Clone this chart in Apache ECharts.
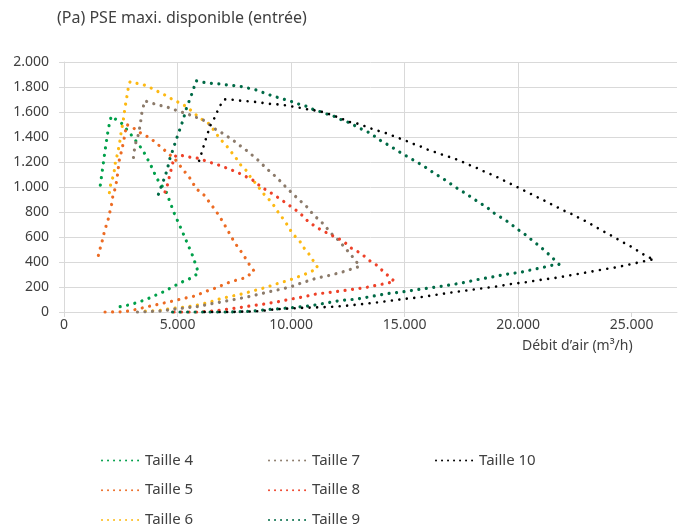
<!DOCTYPE html>
<html>
<head>
<meta charset="utf-8">
<title>PSE maxi. disponible</title>
<script src="https://cdn.jsdelivr.net/npm/echarts@6/dist/echarts.min.js"></script>
<style>
  html, body { margin: 0; padding: 0; background: #fff; }
  #chart { width: 684px; height: 524px; }
</style>
</head>
<body>
<div id="chart"></div>
<script>
// courbes : [débit m3/h, pression Pa]
const taille4 = [
  [1600, 1015], [1690, 1134], [1810, 1294], [1955, 1468], [2080, 1567],
  [2545, 1508], [2985, 1412], [3470, 1295], [3825, 1174], [4090, 1068], [4500, 961],
  [4850, 792], [5265, 621], [5660, 453], [5925, 312],
  [5635, 274], [5340, 252], [5045, 226], [4750, 199], [4455, 166], [4160, 146],
  [3870, 119], [3575, 98], [3280, 79], [2940, 60], [2620, 47], [2325, 38], [2150, 33]
]
const taille5 = [
  [1515, 453], [1590, 507], [1690, 573], [1765, 632], [1855, 688], [1955, 747],
  [2030, 808], [2105, 867], [2150, 926], [2250, 987], [2325, 1054], [2440, 1220],
  [2545, 1295], [2620, 1361], [2690, 1428], [2760, 1500],
  [3030, 1476], [3280, 1441], [3575, 1415], [3870, 1380], [4380, 1303], [4895, 1220],
  [5265, 1134], [5560, 1068], [5820, 987], [6175, 934], [6560, 840], [6850, 766],
  [7160, 670], [7500, 560], [7880, 463], [8235, 359], [8380, 327],
  [7985, 274], [7440, 247], [7100, 226], [6810, 201], [6470, 178], [6145, 159],
  [5855, 132], [5530, 119], [5190, 106], [4895, 92], [4575, 79], [4265, 66],
  [3910, 52], [3575, 38], [2985, 12], [2620, 2], [2030, 0], [1650, 0]
]
const taille6 = [
  [2000, 955], [2060, 1028], [2150, 1076], [2220, 1134], [2265, 1200], [2355, 1263],
  [2410, 1316], [2470, 1375], [2515, 1436], [2590, 1508], [2645, 1575], [2680, 1629],
  [2735, 1687], [2795, 1749], [2850, 1816], [2910, 1842],
  [3205, 1829], [3530, 1816], [3870, 1789], [4160, 1762], [4455, 1735], [4780, 1701],
  [5075, 1674], [5410, 1642], [5880, 1567], [6120, 1535], [6365, 1508], [6660, 1441],
  [6850, 1388], [7100, 1343], [7400, 1273], [7590, 1228], [7795, 1174], [8015, 1134],
  [8205, 1081], [8425, 1032], [8615, 988], [8795, 945], [9060, 894], [9265, 846],
  [9455, 792], [9645, 747], [9850, 693], [10045, 632], [10410, 560], [10590, 507],
  [10780, 466], [10970, 413], [11175, 354],
  [10850, 319], [10485, 293], [10190, 274], [9895, 252], [9600, 239], [9235, 218],
  [8940, 199], [8615, 183], [8280, 167], [7985, 151], [7690, 138], [7395, 127],
  [7060, 114], [6735, 98], [6470, 82], [6145, 66], [5780, 52], [5410, 40],
  [5045, 34], [4675, 26], [4310, 14], [4015, 10], [3350, 6]
]
const taille7 = [
  [3060, 1236], [3100, 1295], [3160, 1353], [3250, 1401], [3320, 1460], [3380, 1527],
  [3425, 1589], [3500, 1647], [3550, 1690],
  [3825, 1674], [4160, 1655], [4500, 1642], [4795, 1623], [5115, 1602], [5410, 1589],
  [5705, 1562], [6000, 1549], [6265, 1521], [6590, 1470], [6880, 1441], [7175, 1407],
  [7440, 1375], [7720, 1335], [7985, 1300], [8235, 1263], [8600, 1206], [8820, 1166],
  [9055, 1126], [9310, 1086], [9560, 1041], [9790, 996], [10045, 952], [10265, 913],
  [10735, 835], [10970, 781], [11410, 707], [11810, 621], [12100, 573], [12320, 525],
  [12540, 479], [12760, 431], [13030, 365],
  [12690, 346], [12395, 327], [12100, 312], [11765, 296], [11440, 284], [11115, 270],
  [10805, 252], [10485, 234], [10160, 212], [9825, 194], [9485, 180], [9160, 167],
  [8530, 140], [8175, 124], [7880, 114], [7590, 103], [7250, 92], [6910, 79],
  [6590, 70], [6365, 62], [5925, 44], [5000, 26], [4675, 18], [4265, 8], [3350, 0], [3060, 0]
]
const taille8 = [
  [4450, 960], [4560, 1020], [4650, 1090], [4750, 1161], [4820, 1214], [4940, 1255],
  [5040, 1258],
  [5340, 1247], [5635, 1236], [5970, 1228], [6320, 1203], [6705, 1182], [7030, 1161],
  [7325, 1140], [7690, 1113], [7985, 1086], [8325, 1054], [8720, 996], [9010, 965],
  [9310, 930], [9560, 899], [9850, 862], [10190, 819], [10485, 774], [10735, 728],
  [11000, 693], [11295, 659], [11590, 632], [11880, 605], [12100, 587], [12395, 552],
  [12615, 515], [12940, 483], [13200, 450], [13470, 410], [13750, 378], [14015, 333],
  [14260, 293], [14560, 244],
  [14230, 231], [13910, 218], [13575, 207], [13250, 194], [12910, 186], [12585, 178],
  [12275, 170], [11955, 162], [11615, 155], [10970, 140], [10630, 124], [10335, 114],
  [10000, 103], [9675, 92], [9350, 79], [9015, 71], [8720, 60], [8350, 52],
  [8030, 44], [7690, 34], [7355, 26], [7030, 18], [6705, 10], [6365, 5], [6000, 0], [4800, 0]
]
const taille9 = [
  [4160, 942], [4300, 1014], [4455, 1085], [4560, 1150], [4675, 1236], [4795, 1295],
  [4895, 1353], [5000, 1409], [5115, 1468], [5235, 1530], [5410, 1640], [5560, 1709],
  [5675, 1768], [5820, 1850],
  [6145, 1837], [6470, 1829], [6850, 1824], [7205, 1816], [7545, 1810], [7865, 1802],
  [8160, 1789], [8470, 1776], [8795, 1754], [9085, 1735], [9410, 1717], [9705, 1701],
  [10045, 1682], [10340, 1663], [10660, 1647], [10970, 1621], [11295, 1602], [11590, 1583],
  [11880, 1567], [12175, 1541], [12500, 1519], [12790, 1493], [13085, 1465], [13380, 1441],
  [13765, 1396], [14015, 1361], [14305, 1335], [14600, 1300], [14895, 1268], [15190, 1236],
  [15480, 1206], [15780, 1174], [16070, 1140], [16320, 1108], [16615, 1076], [16910, 1041],
  [17175, 1006], [17470, 974], [17735, 942], [18030, 907], [18320, 872], [18615, 840],
  [18865, 800], [19160, 766], [19455, 734], [19720, 699], [20000, 659], [20260, 627],
  [20525, 587], [20775, 552], [21070, 507], [21295, 471], [21555, 426], [21805, 381],
  [21470, 373], [21145, 359], [20820, 346], [20480, 333], [20145, 319], [19455, 301],
  [18820, 279], [18175, 258], [17500, 231], [16850, 212], [16175, 194], [15525, 178],
  [14850, 159], [14205, 146], [13530, 124], [12880, 103], [12205, 92], [11880, 84],
  [11560, 72], [11250, 62], [10925, 52], [10590, 44], [10265, 38], [9925, 34],
  [9530, 26], [9160, 22], [8865, 18], [8570, 12], [8280, 6], [7910, 4], [7325, 0],
  [6955, 0], [4500, 0]
]
const taille10 = [
  [5950, 1210], [6075, 1281], [6220, 1369], [6440, 1490], [6660, 1562], [6810, 1630],
  [6955, 1674], [7060, 1701],
  [7295, 1701], [7545, 1695], [7795, 1690], [8060, 1687], [8350, 1682], [8615, 1677],
  [8865, 1669], [9160, 1663], [9455, 1661], [9705, 1655], [9970, 1647], [10235, 1637],
  [10485, 1632], [10735, 1621], [11265, 1607], [11810, 1575], [12205, 1549], [12540, 1521],
  [12880, 1510], [13200, 1490], [13720, 1455], [14015, 1441], [14305, 1423], [14675, 1396],
  [15000, 1375], [15335, 1348], [15675, 1327], [16000, 1300], [16320, 1281], [16735, 1254],
  [17055, 1236], [17470, 1209], [17765, 1182], [18085, 1161], [18380, 1134], [18720, 1108],
  [19055, 1081], [19410, 1049], [19705, 1022], [20000, 996], [20380, 961], [21070, 899],
  [21410, 867], [22055, 808], [22395, 781], [22730, 747], [23055, 720], [23420, 680],
  [24010, 621], [24600, 560], [24890, 533], [25440, 471], [25705, 439], [26000, 423],
  [25705, 413], [25380, 399], [25040, 386], [24380, 359], [23675, 338], [23025, 317],
  [22350, 295], [21700, 274], [21030, 258], [20380, 239], [19705, 224], [19055, 204],
  [18380, 188], [17735, 172], [17055, 156], [16410, 138], [15735, 119], [15040, 106],
  [14380, 90], [13675, 74], [12980, 60], [12320, 48], [11660, 40], [11000, 36],
  [10335, 32], [9970, 28], [9530, 24], [9235, 20], [8865, 12], [8500, 6], [8060, 4],
  [7690, 2], [7325, 0], [5900, 0]
]

const names = ['Taille 4', 'Taille 5', 'Taille 6', 'Taille 7', 'Taille 8', 'Taille 9', 'Taille 10']
const colors = ['#00a04a', '#ec6b23', '#fdb913', '#8c7b6b', '#ee4128', '#006a46', '#000000']
const curves = [taille4, taille5, taille6, taille7, taille8, taille9, taille10]
const xTicks = [0, 5000, 10000, 15000, 20000, 25000]

const font = '"Noto Sans", sans-serif'
const textColor = '#404040'
const gridColor = '#d9d9d9'

// séparateur de milliers "."
function fmt(v) {
  return String(v).replace(/\B(?=(\d{3})+(?!\d))/g, '.')
}

const chart = echarts.init(document.getElementById('chart'), null, { renderer: 'canvas' })

let series = curves.map((d, i) => ({
  name: names[i],
  type: 'line',
  data: d,
  symbol: 'none',
  clip: false,
  z: 2 + i,
  lineStyle: {
    color: colors[i],
    width: i === 6 ? 2.6 : 3.2,
    type: [0.01, 7.5],
    cap: 'round'
  },
  itemStyle: { color: colors[i] }
}))

// une légende par colonne
let legendBase = {
  orient: 'vertical',
  top: 453,
  height: 90,
  padding: 0,
  itemWidth: 38,
  itemHeight: 14,
  itemGap: 14.7,
  itemStyle: { opacity: 0 },
  lineStyle: { type: [0.01, 6], cap: 'round' },
  textStyle: { fontFamily: font, fontSize: 15, color: textColor }
}

let option = {
  animation: false,
  grid: { left: 64, right: 7, top: 62, bottom: 212, containLabel: false },
  graphic: [
    {
      type: 'text', left: 57, top: 10,
      style: { text: '(Pa) PSE maxi. disponible (entrée)', font: '16px ' + font, fill: textColor }
    },
    {
      type: 'text', left: 522, top: 339,
      style: { text: 'Débit d’air (m³/h)', font: '14px ' + font, fill: textColor }
    }
  ],
  legend: [
    Object.assign({ left: 101, data: names.slice(0, 3) }, legendBase),
    Object.assign({ left: 268, data: names.slice(3, 6) }, legendBase),
    Object.assign({ left: 435, data: names.slice(6) }, legendBase)
  ],
  xAxis: {
    type: 'value',
    min: 0,
    max: 27000,
    interval: 5000,
    axisLine: { show: true, lineStyle: { color: gridColor } },
    axisTick: { show: true, length: 5, lineStyle: { color: gridColor }, customValues: xTicks },
    splitLine: { show: true, showMaxLine: false, lineStyle: { color: gridColor, width: 1 } },
    axisLabel: {
      margin: 6, fontFamily: font, fontSize: 14, color: textColor,
      customValues: xTicks, formatter: fmt
    }
  },
  yAxis: {
    type: 'value',
    min: 0,
    max: 2000,
    interval: 200,
    axisLine: { show: true, lineStyle: { color: gridColor } },
    axisTick: { show: true, length: 5, lineStyle: { color: gridColor } },
    splitLine: { show: true, lineStyle: { color: gridColor, width: 1 } },
    axisLabel: { margin: 15, fontFamily: font, fontSize: 14, color: textColor, formatter: fmt }
  },
  series: series
}

chart.setOption(option)
</script>
</body>
</html>
